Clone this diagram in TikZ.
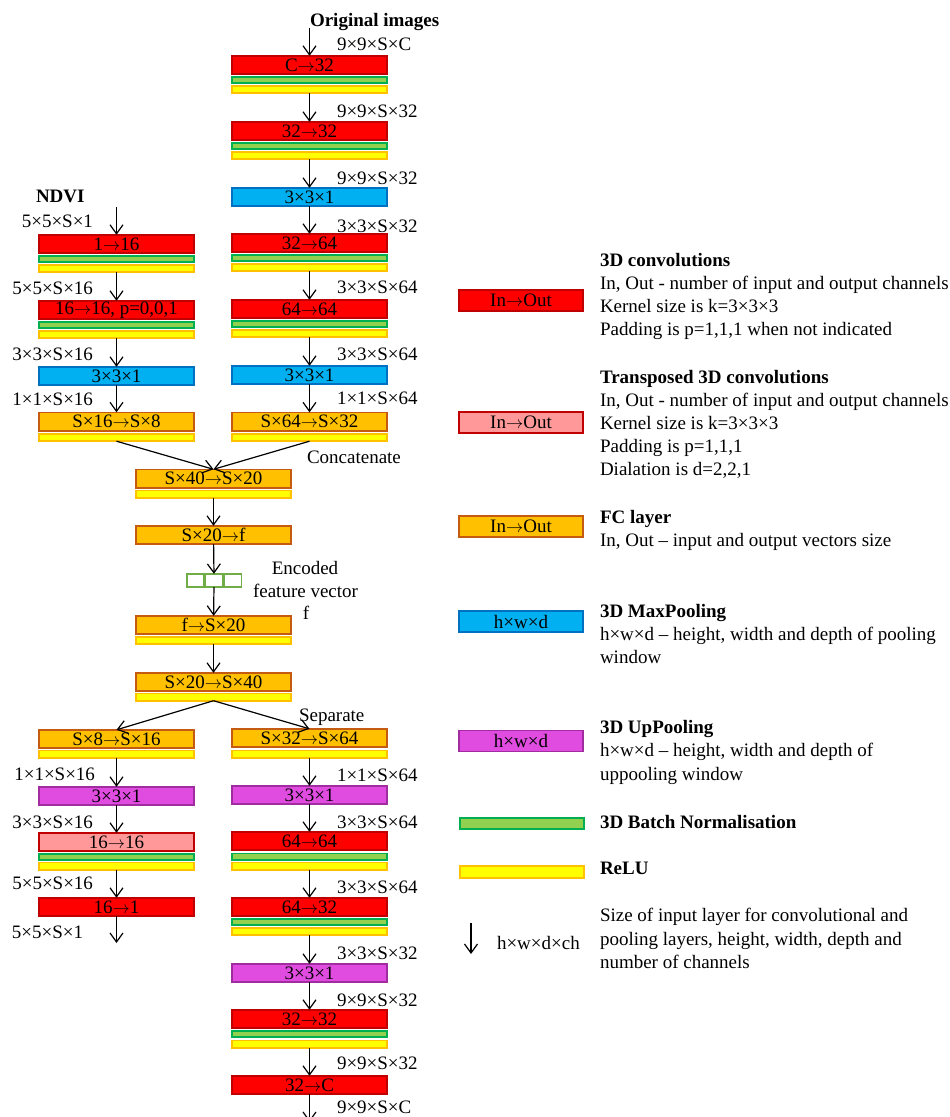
\documentclass[tikz,border=0pt]{standalone}
\usepackage{fontspec}
\setmainfont{Liberation Serif}
\usetikzlibrary{arrows.meta}

\definecolor{convfill}{HTML}{FF0000}
\definecolor{convdraw}{HTML}{C00000}
\definecolor{tconvfill}{HTML}{FF9999}
\definecolor{fcfill}{HTML}{FFC000}
\definecolor{fcdraw}{HTML}{C55A11}
\definecolor{relufill}{HTML}{FFFF00}
\definecolor{reludraw}{HTML}{FFC000}
\definecolor{bnfill}{HTML}{92D050}
\definecolor{bndraw}{HTML}{00B050}
\definecolor{poolfill}{HTML}{00B0F0}
\definecolor{pooldraw}{HTML}{0070C0}
\definecolor{upfill}{HTML}{E04CE0}
\definecolor{updraw}{HTML}{A02CA0}
\definecolor{vecdraw}{HTML}{70AD47}

\newcommand\figfont{\fontsize{19}{23}\selectfont}
% long thin arrow used inside the layer boxes
\newcommand\tarrow{\ensuremath{\rightarrow}}

\tikzset{
  blk/.style={draw, line width=1.6pt, minimum width=155.5pt, minimum height=18.4pt,
              inner sep=0pt, outer sep=0pt, font=\figfont},
  conv/.style={blk, fill=convfill, draw=convdraw},
  tconv/.style={blk, fill=tconvfill, draw=convdraw},
  fc/.style={blk, fill=fcfill, draw=fcdraw},
  pool/.style={blk, fill=poolfill, draw=pooldraw},
  uppool/.style={blk, fill=upfill, draw=updraw},
  bn/.style={draw=bndraw, fill=bnfill, line width=1.6pt, minimum width=155.5pt,
             minimum height=6.4pt, inner sep=0pt, outer sep=0pt},
  relu/.style={draw=reludraw, fill=relufill, line width=1.6pt, minimum width=155.5pt,
               minimum height=7.4pt, inner sep=0pt, outer sep=0pt},
  legbox/.style={minimum width=124pt, minimum height=21pt},
  cell/.style={draw=vecdraw, line width=1.6pt, minimum width=17.1pt, minimum height=13.4pt,
               inner sep=0pt, outer sep=0pt},
  lbl/.style={inner sep=0pt, outer sep=0pt, text height=12.6pt, text depth=0pt, font=\figfont},
  ttl/.style={lbl, font=\figfont\bfseries},
  flow/.style={line width=1.2pt, -{Straight Barb[length=9pt,width=13pt,line width=1.2pt]}},
  link/.style={line width=1.2pt, -{Straight Barb[length=9pt,width=13pt,line width=1.2pt]}},
}

\begin{document}
\begin{tikzpicture}[x=1pt,y=-1pt]
\useasboundingbox (0,0) rectangle (950,1117);
\def\xL{116.5}
\def\xM{309.5}
\def\xC{213.5}

% ---------- encoder, main (image) branch ----------
\node[ttl, anchor=west] (orig) at (310,20) {Original images};
\coordinate (in1) at (\xM,28);
\node[conv] (m1) at (\xM,65) {C\tarrow32};
\node[bn]   (m1b) at (\xM,80) {};
\node[relu] (m1r) at (\xM,89.5) {};
\node[conv] (m2) at (\xM,131) {32\tarrow32};
\node[bn]   (m2b) at (\xM,146) {};
\node[relu] (m2r) at (\xM,155.5) {};
\node[pool] (m3) at (\xM,197) {3×3×1};
\node[conv] (m4) at (\xM,243) {32\tarrow64};
\node[bn]   (m4b) at (\xM,258) {};
\node[relu] (m4r) at (\xM,267.5) {};
\node[conv] (m5) at (\xM,309) {64\tarrow64};
\node[bn]   (m5b) at (\xM,324) {};
\node[relu] (m5r) at (\xM,333.5) {};
\node[pool] (m6) at (\xM,375) {3×3×1};
\node[fc]   (m7) at (\xM,421.5) {S×64\tarrow S×32};
\node[relu] (m7r) at (\xM,437.5) {};

\draw[flow] (in1) -- (m1);
\draw[flow] (m1r) -- (m2);
\draw[flow] (m2r) -- (m3);
\draw[flow] (m3) -- (m4);
\draw[flow] (m4r) -- (m5);
\draw[flow] (m5r) -- (m6);
\draw[flow] (m6) -- (m7);

\foreach \y/\t in {44/9×9×S×C, 111/9×9×S×32, 178/9×9×S×32, 226/3×3×S×32,
                   287/3×3×S×64, 354/3×3×S×64, 398/1×1×S×64}
  \node[lbl, anchor=west] at (337,\y) {\t};

% ---------- encoder, NDVI branch ----------
\node[ttl, anchor=west] (ndvi) at (36,196) {NDVI};
\coordinate (in2) at (\xL,207);
\node[conv] (l1) at (\xL,244) {1\tarrow16};
\node[bn]   (l1b) at (\xL,259) {};
\node[relu] (l1r) at (\xL,268.5) {};
\node[conv] (l2) at (\xL,310) {16\tarrow16, p=0,0,1};
\node[bn]   (l2b) at (\xL,325) {};
\node[relu] (l2r) at (\xL,334.5) {};
\node[pool] (l3) at (\xL,376) {3×3×1};
\node[fc]   (l4) at (\xL,421.5) {S×16\tarrow S×8};
\node[relu] (l4r) at (\xL,437.5) {};

\draw[flow] (in2) -- (l1);
\draw[flow] (l1r) -- (l2);
\draw[flow] (l2r) -- (l3);
\draw[flow] (l3) -- (l4);

\node[lbl, anchor=east] at (93,221) {5×5×S×1};
\node[lbl, anchor=east] at (93,288) {5×5×S×16};
\node[lbl, anchor=east] at (93,354) {3×3×S×16};
\node[lbl, anchor=east] at (93,399) {1×1×S×16};

% ---------- bottleneck ----------
\node[fc]   (c1) at (\xC,478.5) {S×40\tarrow S×20};
\node[relu] (c1r) at (\xC,494) {};
\node[fc]   (c2) at (\xC,535) {S×20\tarrow f};
\node[cell] (v1) at (195.35,580.5) {};
\node[cell] (v2) at (214.05,580.5) {};
\node[cell] (v3) at (232.75,580.5) {};
\node[fc]   (c3) at (\xC,625) {f\tarrow S×20};
\node[relu] (c3r) at (\xC,640.5) {};
\node[fc]   (c4) at (\xC,682) {S×20\tarrow S×40};
\node[relu] (c4r) at (\xC,697) {};

\draw[link] (l4r.south) -- (c1.north);
\draw[link] (m7r.south) -- (c1.north);
\draw[flow] (c1r) -- (c2);
\draw[flow] (c2) -- (v2);
\draw[flow] (v2) -- (c3);
\draw[flow] (c3r) -- (c4);

\node[lbl, anchor=west] (concat) at (307,457) {Concatenate};
\node[lbl] (enc1) at (305,568) {Encoded};
\node[lbl] (enc2) at (305.5,591) {feature vector};
\node[lbl] (enc3) at (306,613) {f};

% ---------- decoder, NDVI branch ----------
\node[fc]     (l5) at (\xL,739) {S×8\tarrow S×16};
\node[relu]   (l5r) at (\xL,754) {};
\node[uppool] (l6) at (\xL,796) {3×3×1};
\node[tconv]  (l7) at (\xL,842) {16\tarrow16};
\node[bn]     (l7b) at (\xL,857) {};
\node[relu]   (l7r) at (\xL,866) {};
\node[conv]   (l8) at (\xL,907) {16\tarrow1};
\coordinate   (out2) at (\xL,943);

\draw[link] (c4r.south) -- (l5.north);
\draw[flow] (l5r) -- (l6);
\draw[flow] (l6) -- (l7);
\draw[flow] (l7r) -- (l8);
\draw[flow] (l8) -- (out2);

\node[lbl, anchor=east] at (95,774) {1×1×S×16};
\node[lbl, anchor=east] at (93,822) {3×3×S×16};
\node[lbl, anchor=east] at (93,883) {5×5×S×16};
\node[lbl, anchor=west] at (12,932) {5×5×S×1};

% ---------- decoder, main branch ----------
\node[fc]     (m8) at (\xM,738) {S×32\tarrow S×64};
\node[relu]   (m8r) at (\xM,754) {};
\node[uppool] (m9) at (\xM,795) {3×3×1};
\node[conv]   (m10) at (\xM,841) {64\tarrow64};
\node[bn]     (m10b) at (\xM,856.5) {};
\node[relu]   (m10r) at (\xM,866) {};
\node[conv]   (m11) at (\xM,907) {64\tarrow32};
\node[bn]     (m11b) at (\xM,922) {};
\node[relu]   (m11r) at (\xM,931.5) {};
\node[uppool] (m12) at (\xM,973) {3×3×1};
\node[conv]   (m13) at (\xM,1019) {32\tarrow32};
\node[bn]     (m13b) at (\xM,1034) {};
\node[relu]   (m13r) at (\xM,1044) {};
\node[conv]   (m14) at (\xM,1085) {32\tarrow C};
\coordinate   (out1) at (\xM,1122);

\draw[link] (c4r.south) -- (m8.north);
\draw[flow] (m8r) -- (m9);
\draw[flow] (m9) -- (m10);
\draw[flow] (m10r) -- (m11);
\draw[flow] (m11r) -- (m12);
\draw[flow] (m12) -- (m13);
\draw[flow] (m13r) -- (m14);
\draw[flow] (m14) -- (out1);

\node[lbl, anchor=west] (sep) at (299,715) {Separate};
\foreach \y/\t in {775/1×1×S×64, 822/3×3×S×64, 887/3×3×S×64, 953/3×3×S×32,
                   1000/9×9×S×32, 1063/9×9×S×32, 1107/9×9×S×C}
  \node[lbl, anchor=west] at (337,\y) {\t};

% ---------- legend ----------
\node[conv, legbox]  (k1) at (521,300.5) {In\tarrow Out};
\node[tconv, legbox] (k2) at (521,422.5) {In\tarrow Out};
\node[fc, legbox]    (k3) at (521,526.5) {In\tarrow Out};
\node[pool, legbox]  (k4) at (521,621.5) {h×w×d};
\node[uppool, legbox](k5) at (521,741) {h×w×d};
\node[bn, minimum width=124pt, minimum height=11.4pt]  (k6) at (522,823.5) {};
\node[relu, minimum width=124pt, minimum height=12.4pt] (k7) at (522,872) {};
\coordinate (k8a) at (471,923);
\coordinate (k8b) at (471,954);
\draw[flow] (k8a) -- (k8b);
\node[lbl, anchor=west] (k8) at (497,943) {h×w×d×ch};

\node[ttl, anchor=west] at (600,260) {3D convolutions};
\node[lbl, anchor=west] at (600,283) {In, Out - number of input and output channels};
\node[lbl, anchor=west] at (600,306) {Kernel size is k=3×3×3};
\node[lbl, anchor=west] at (600,329) {Padding is p=1,1,1 when not indicated};

\node[ttl, anchor=west] at (600,377) {Transposed 3D convolutions};
\node[lbl, anchor=west] at (600,400) {In, Out - number of input and output channels};
\node[lbl, anchor=west] at (600,423) {Kernel size is k=3×3×3};
\node[lbl, anchor=west] at (600,446) {Padding is p=1,1,1};
\node[lbl, anchor=west] at (600,469) {Dialation is d=2,2,1};

\node[ttl, anchor=west] at (600,517) {FC layer};
\node[lbl, anchor=west] at (600,540) {In, Out – input and output vectors size};

\node[ttl, anchor=west] at (600,611) {3D MaxPooling};
\node[lbl, anchor=west] at (600,634) {h×w×d – height, width and depth of pooling};
\node[lbl, anchor=west] at (600,657) {window};

\node[ttl, anchor=west] at (600,727) {3D UpPooling};
\node[lbl, anchor=west] at (600,750) {h×w×d – height, width and depth of};
\node[lbl, anchor=west] at (600,774) {uppooling window};

\node[ttl, anchor=west] at (600,822) {3D Batch Normalisation};
\node[ttl, anchor=west] at (600,868) {ReLU};

\node[lbl, anchor=west] at (600,915) {Size of input layer for convolutional and};
\node[lbl, anchor=west] at (600,939) {pooling layers, height, width, depth and};
\node[lbl, anchor=west] at (600,962) {number of channels};
\end{tikzpicture}
\end{document}
